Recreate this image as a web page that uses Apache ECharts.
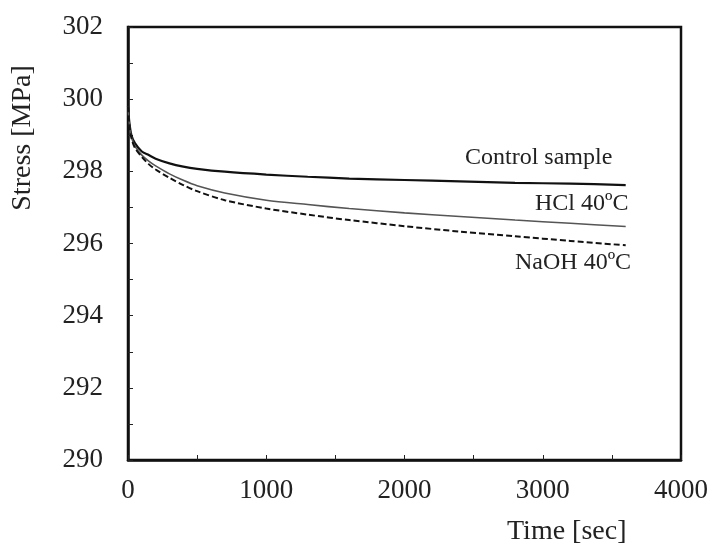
<!DOCTYPE html>
<html><head><meta charset="utf-8">
<script src="https://cdn.jsdelivr.net/npm/echarts@6/dist/echarts.min.js"></script>
<style>html,body{margin:0;padding:0;background:#fff}#c{width:711px;height:547px}</style>
</head><body><div id="c"></div>
<script>
var timeSec = [0, 10, 25, 50, 100, 150, 200, 300, 400, 500, 700, 1000, 1300, 1600, 2000, 2400, 2800, 3200, 3600];
var controlSample = [299.8, 299.35, 299.0, 298.78, 298.55, 298.45, 298.35, 298.22, 298.13, 298.07, 297.99, 297.91, 297.85, 297.8, 297.76, 297.72, 297.68, 297.66, 297.62];
var hcl40 = [299.8, 299.3, 298.95, 298.7, 298.45, 298.28, 298.15, 297.93, 297.75, 297.6, 297.4, 297.2, 297.08, 296.97, 296.85, 296.75, 296.65, 296.56, 296.47];
var naoh40 = [299.8, 299.28, 298.92, 298.65, 298.4, 298.2, 298.05, 297.82, 297.62, 297.45, 297.2, 296.97, 296.8, 296.65, 296.48, 296.33, 296.2, 296.07, 295.95];
var seriesNames = ['Control sample', 'HCl 40ºC', 'NaOH 40ºC'];
var xTitle = 'Time [sec]';
var yTitle = 'Stress [MPa]';

function pairs(v){ return timeSec.map(function(t,i){ return [t, v[i]]; }); }
var font = 'Liberation Serif';
var chart = echarts.init(document.getElementById('c'));
chart.setOption({
  animation: false,
  grid: {left: 128, top: 27, right: 30, bottom: 87, show: true, borderColor: '#111', borderWidth: 2.5},
  xAxis: {type: 'value', min: 0, max: 4000, interval: 500,
    axisLine: {show: true, lineStyle: {color: '#111', width: 2.5}},
    axisTick: {inside: true, length: 5, lineStyle: {color: '#222'}},
    splitLine: {show: false},
    axisLabel: {fontFamily: font, fontSize: 27, color: '#222', margin: 17,
      formatter: function(v){ return v % 1000 === 0 ? String(v) : ''; }}
  },
  yAxis: {type: 'value', min: 290, max: 302, interval: 1,
    axisLine: {show: true, lineStyle: {color: '#111', width: 2.5}},
    axisTick: {inside: true, length: 5, lineStyle: {color: '#222'}},
    splitLine: {show: false},
    axisLabel: {fontFamily: font, fontSize: 27, color: '#222', margin: 25,
      formatter: function(v){ return v % 2 === 0 ? String(v) : ''; }}
  },
  series: [
    {name: seriesNames[0], type: 'line', data: pairs(controlSample), smooth: 0.3, showSymbol: false,
      lineStyle: {color: '#111', width: 2.2}},
    {name: seriesNames[1], type: 'line', data: pairs(hcl40), smooth: 0.3, showSymbol: false,
      lineStyle: {color: '#555', width: 1.6}},
    {name: seriesNames[2], type: 'line', data: pairs(naoh40), smooth: 0.3, showSymbol: false,
      lineStyle: {color: '#111', width: 2, type: [6, 3]}}
  ],
  graphic: [
    {type: 'text', x: 465, y: 158, style: {text: seriesNames[0], font: '24px "Liberation Serif"', fill: '#222', verticalAlign: 'middle'}},
    {type: 'text', x: 535, y: 204, style: {text: seriesNames[1], font: '24px "Liberation Serif"', fill: '#222', verticalAlign: 'middle'}},
    {type: 'text', x: 515, y: 263, style: {text: seriesNames[2], font: '24px "Liberation Serif"', fill: '#222', verticalAlign: 'middle'}},
    {type: 'text', x: 507, y: 532, style: {text: xTitle, font: '28px "Liberation Serif"', fill: '#222', verticalAlign: 'middle'}},
    {type: 'text', x: 23, y: 138, rotation: Math.PI/2, style: {text: yTitle, font: '28px "Liberation Serif"', fill: '#222', align: 'center', verticalAlign: 'middle'}}
  ]
});
</script></body></html>
